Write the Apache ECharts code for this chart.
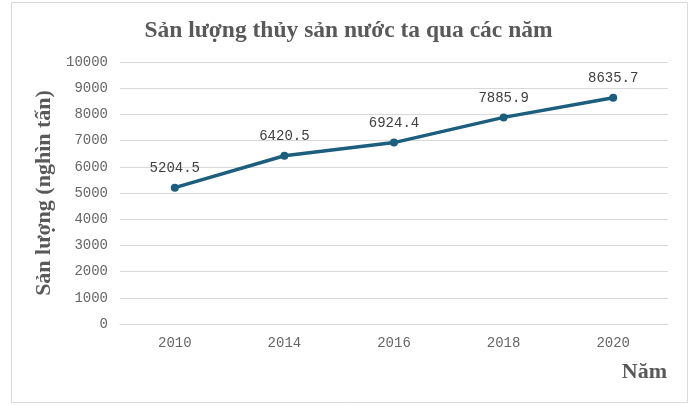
<!DOCTYPE html>
<html><head><meta charset="utf-8">
<script src="https://cdn.jsdelivr.net/npm/echarts@6/dist/echarts.min.js"></script>
<style>html,body{margin:0;padding:0;background:#fff}#c{width:697px;height:405px}</style>
</head><body><div id="c"></div>
<script>
const categories = ['2010', '2014', '2016', '2018', '2020'];
const values = [5204.5, 6420.5, 6924.4, 7885.9, 8635.7];
const titleText = 'Sản lượng thủy sản nước ta qua các năm';
const yName = 'Sản lượng (nghìn tấn)';
const xName = 'Năm';

const chart = echarts.init(document.getElementById('c'), null, {renderer: 'canvas'});
const mono = '"Liberation Mono", "Courier New", monospace';
const serif = '"Liberation Serif", "Times New Roman", serif';
chart.setOption({
  animation: false,
  backgroundColor: '#fff',
  title: {
    text: titleText, left: 'center', top: 14,
    textStyle: {fontFamily: serif, fontWeight: 'bold', fontSize: 23.5, color: '#595959'}
  },
  graphic: [
    {type: 'rect', shape: {x: 11.5, y: 2.5, width: 676, height: 400}, style: {fill: 'none', stroke: '#d9d9d9', lineWidth: 1}, z: -1},
    {type: 'text', right: 30, top: 361, style: {text: xName, font: 'bold 22px ' + serif, fill: '#595959'}}
  ],
  grid: {left: 120, right: 29, top: 62, bottom: 81},
  xAxis: {
    type: 'category', data: categories, boundaryGap: true,
    axisLine: {show: true, lineStyle: {color: '#d9d9d9'}},
    axisTick: {show: false},
    axisLabel: {fontFamily: mono, fontSize: 14, color: '#666666', margin: 12}
  },
  yAxis: {
    type: 'value', min: 0, max: 10000, interval: 1000,
    name: yName, nameLocation: 'middle', nameGap: 53,
    nameTextStyle: {fontFamily: serif, fontWeight: 'bold', fontSize: 22, color: '#595959'},
    axisLine: {show: false}, axisTick: {show: false},
    splitLine: {lineStyle: {color: '#d9d9d9'}},
    axisLabel: {fontFamily: mono, fontSize: 14, color: '#666666', margin: 12, formatter: v => String(v)}
  },
  series: [{
    type: 'line', data: values,
    symbol: 'circle', symbolSize: 8,
    lineStyle: {color: '#1b5e7e', width: 3.5},
    itemStyle: {color: '#1b5e7e'},
    label: {show: true, position: 'top', distance: 8, fontFamily: mono, fontSize: 14, color: '#404040',
      formatter: p => p.value.toFixed(1)}
  }]
});
</script></body></html>
